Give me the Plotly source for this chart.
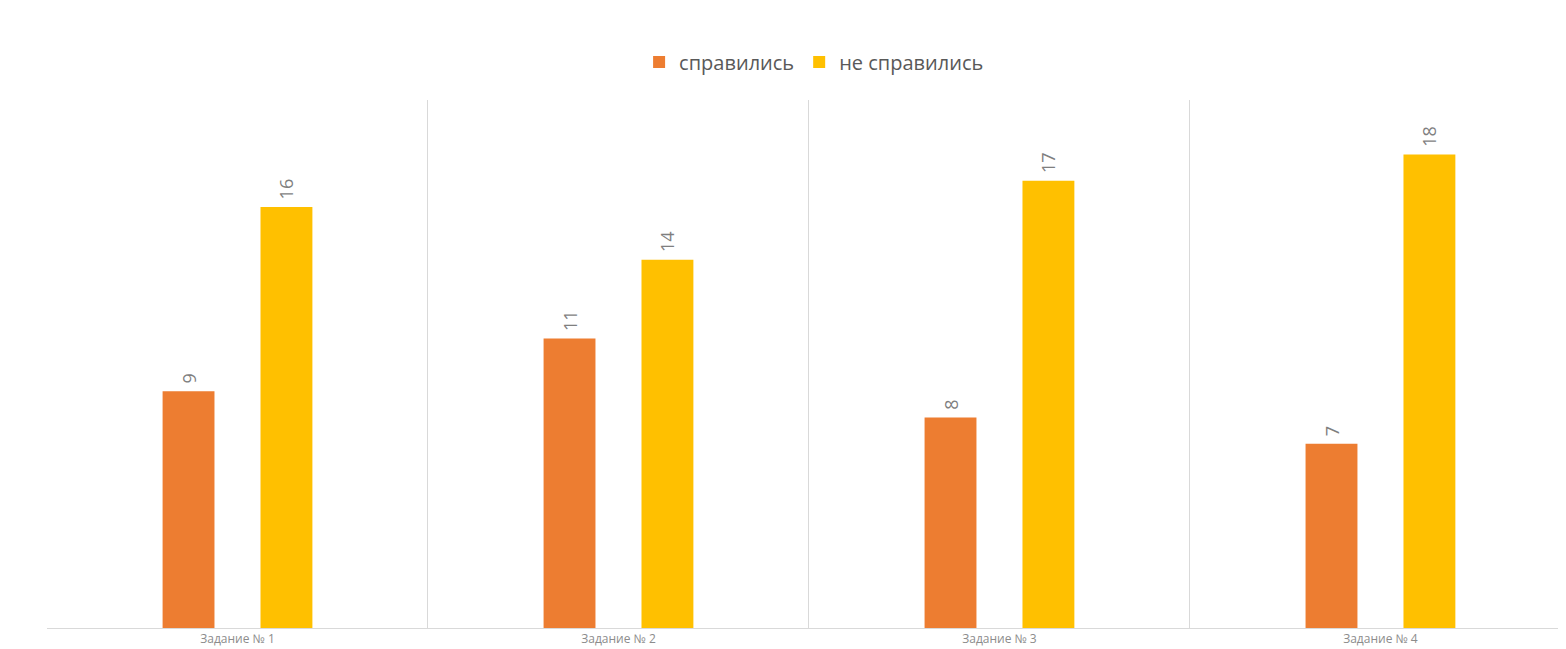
import plotly.graph_objects as go

categories = ["Задание № 1", "Задание № 2", "Задание № 3", "Задание № 4"]
coped = [9, 11, 8, 7]
not_coped = [16, 14, 17, 18]
series_names = ["справились", "не справились"]
colors = ["#ED7D31", "#FFC000"]

fig = go.Figure()
for name, vals, col in zip(series_names, [coped, not_coped], colors):
    fig.add_trace(go.Bar(
        x=categories, y=vals, name=name,
        marker=dict(color=col, line=dict(width=0)),
        texttemplate="\u00a0%{y}", textposition="outside",
        textangle=-90, cliponaxis=False,
        textfont=dict(color="#7f7f7f", size=18, family="Open Sans"),
    ))

fig.update_layout(
    width=1558, height=641,
    margin=dict(l=39, r=0, t=92, b=21),
    paper_bgcolor="white", plot_bgcolor="white",
    barmode="group", bargap=0.486, bargroupgap=0.47,
    font=dict(family="Open Sans", color="#595959", size=15),
    legend=dict(orientation="h", x=0.505, xanchor="center", y=1.072, yanchor="middle",
                font=dict(size=20, color="#595959"), itemwidth=30, traceorder="normal"),
    xaxis=dict(type="category", tickson="boundaries", showgrid=True, gridcolor="#d9d9d9",
               gridwidth=1, showline=True, linecolor="#d9d9d9", range=[-0.5, 3.487],
               ticks="", automargin=False,
               tickfont=dict(size=12, color="#8c8c8c")),
    yaxis=dict(range=[0, 20.07], showgrid=False, showticklabels=False, zeroline=False,
               showline=False, automargin=False),
)
fig.write_html("out.html")
